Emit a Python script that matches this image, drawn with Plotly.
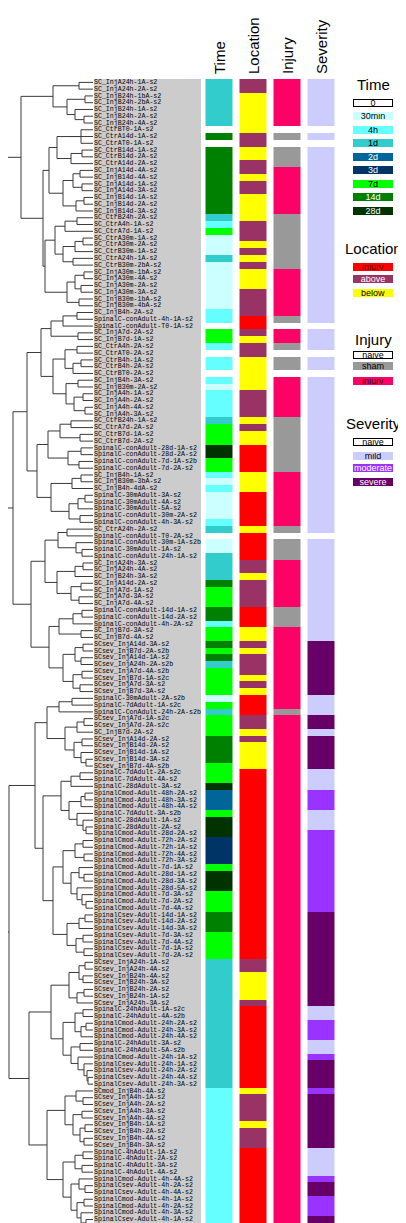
import plotly.graph_objects as go

W, H = 406, 1223

LABELS = [
"SC_InjA24h-1A-s2","SC_InjA24h-2A-s2","SC_InjB24h-1bA-s2","SC_InjB24h-2bA-s2","SC_InjB24h-1A-s2",
"SC_InjB24h-2A-s2","SC_InjB24h-4A-s2","SC_CtrBT0-1A-s2","SC_CtrA14d-1A-s2","SC_CtrAT0-1A-s2",
"SC_CtrB14d-1A-s2","SC_CtrB14d-2A-s2","SC_CtrA14d-2A-s2","SC_InjA14d-4A-s2","SC_InjB14d-4A-s2",
"SC_InjA14d-1A-s2","SC_InjA14d-3A-s2","SC_InjB14d-1A-s2","SC_InjB14d-2A-s2","SC_InjB14d-3A-s2",
"SC_CtrB24h-2A-s2","SC_CtrA4h-1A-s2","SC_CtrA7d-1A-s2","SC_CtrA30m-1A-s2","SC_CtrA30m-2A-s2",
"SC_CtrB30m-1A-s2","SC_CtrA24h-1A-s2","SC_CtrB30m-2bA-s2","SC_InjA30m-1bA-s2","SC_InjA30m-4A-s2",
"SC_InjA30m-2A-s2","SC_InjA30m-3A-s2","SC_InjB30m-1bA-s2","SC_InjB30m-4bA-s2","SC_InjB4h-2A-s2",
"SpinalC-conAdult-4h-1A-s2","SpinalC-conAdult-T0-1A-s2","SC_InjA7d-2A-s2","SC_InjB7d-1A-s2","SC_CtrA4h-2A-s2",
"SC_CtrAT0-2A-s2","SC_CtrB4h-1A-s2","SC_CtrB4h-2A-s2","SC_CtrBT0-2A-s2","SC_InjB4h-3A-s2",
"SC_InjB30m-2A-s2","SC_InjA4h-1A-s2","SC_InjA4h-2A-s2","SC_InjA4h-4A-s2","SC_InjA4h-3A-s2",
"SC_CtrB24h-1A-s2","SC_CtrA7d-2A-s2","SC_CtrB7d-1A-s2","SC_CtrB7d-2A-s2","SpinalC-conAdult-28d-1A-s2",
"SpinalC-conAdult-28d-2A-s2","SpinalC-conAdult-7d-1A-s2b","SpinalC-conAdult-7d-2A-s2","SC_InjB4h-1A-s2","SC_InjB30m-3bA-s2",
"SC_InjB4h-4dA-s2","SpinalC-30mAdult-3A-s2","SpinalC-30mAdult-4A-s2","SpinalC-30mAdult-5A-s2","SpinalC-conAdult-30m-2A-s2",
"SpinalC-conAdult-4h-3A-s2","SC_CtrA24h-2A-s2","SpinalC-conAdult-T0-2A-s2","SpinalC-conAdult-30m-1A-s2b","SpinalC-30mAdult-1A-s2",
"SpinalC-conAdult-24h-1A-s2","SC_InjA24h-3A-s2","SC_InjA24h-4A-s2","SC_InjB24h-3A-s2","SC_InjA14d-2A-s2",
"SC_InjA7d-1A-s2","SC_InjA7d-3A-s2","SC_InjA7d-4A-s2","SpinalC-conAdult-14d-1A-s2","SpinalC-conAdult-14d-2A-s2",
"SpinalC-conAdult-4h-2A-s2","SC_InjB7d-3A-s2","SC_InjB7d-4A-s2","SCsev_InjA14d-3A-s2","SCsev_InjB7d-2A-s2b",
"SCsev_InjA14d-1A-s2","SCsev_InjA24h-2A-s2b","SCsev_InjA7d-4A-s2b","SCsev_InjB7d-1A-s2c","SCsev_InjA7d-3A-s2",
"SCsev_InjB7d-3A-s2","SpinalC-30mAdult-2A-s2b","SpinalC-7dAdult-1A-s2c","SpinalC-ConAdult-24h-2A-s2b","SCsev_InjA7d-1A-s2c",
"SCsev_InjA7d-2A-s2c","SC_InjB7d-2A-s2","SCsev_InjA14d-2A-s2","SCsev_InjB14d-2A-s2","SCsev_InjB14d-1A-s2",
"SCsev_InjB14d-3A-s2","SCsev_InjB7d-4A-s2b","SpinalC-7dAdult-2A-s2c","SpinalC-7dAdult-4A-s2","SpinalC-28dAdult-3A-s2",
"SpinalCmod-Adult-48h-2A-s2","SpinalCmod-Adult-48h-3A-s2","SpinalCmod-Adult-48h-4A-s2","SpinalC-7dAdult-3A-s2b","SpinalC-28dAdult-1A-s2",
"SpinalC-28dAdult-2A-s2","SpinalCmod-Adult-28d-2A-s2","SpinalCmod-Adult-72h-2A-s2","SpinalCmod-Adult-72h-1A-s2","SpinalCmod-Adult-72h-4A-s2",
"SpinalCmod-Adult-72h-3A-s2","SpinalCmod-Adult-7d-1A-s2","SpinalCmod-Adult-28d-1A-s2","SpinalCmod-Adult-28d-3A-s2","SpinalCmod-Adult-28d-5A-s2",
"SpinalCmod-Adult-7d-3A-s2","SpinalCmod-Adult-7d-2A-s2","SpinalCmod-Adult-7d-4A-s2","SpinalCsev-Adult-14d-1A-s2","SpinalCsev-Adult-14d-2A-s2",
"SpinalCsev-Adult-14d-3A-s2","SpinalCsev-Adult-7d-3A-s2","SpinalCsev-Adult-7d-4A-s2","SpinalCsev-Adult-7d-1A-s2","SpinalCsev-Adult-7d-2A-s2",
"SCsev_InjA24h-1A-s2","SCsev_InjA24h-4A-s2","SCsev_InjB24h-4A-s2","SCsev_InjB24h-3A-s2","SCsev_InjB24h-2A-s2",
"SCsev_InjB24h-1A-s2","SCsev_InjA24h-3A-s2","SpinalC-24hAdult-1A-s2c","SpinalC-24hAdult-4A-s2b","SpinalCmod-Adult-24h-2A-s2",
"SpinalCmod-Adult-24h-3A-s2","SpinalCmod-Adult-24h-4A-s2","SpinalC-24hAdult-3A-s2","SpinalC-24hAdult-5A-s2b","SpinalCmod-Adult-24h-1A-s2",
"SpinalCsev-Adult-24h-1A-s2","SpinalCsev-Adult-24h-2A-s2","SpinalCsev-Adult-24h-4A-s2","SpinalCsev-Adult-24h-3A-s2","SCmod_InjB4h-4A-s2",
"SCsev_InjA4h-1A-s2","SCsev_InjA4h-2A-s2","SCsev_InjA4h-3A-s2","SCsev_InjA4h-4A-s2","SCsev_InjB4h-1A-s2",
"SCsev_InjB4h-2A-s2","SCsev_InjB4h-4A-s2","SCsev_InjB4h-3A-s2","SpinalC-4hAdult-1A-s2","SpinalC-4hAdult-2A-s2",
"SpinalC-4hAdult-3A-s2","SpinalC-4hAdult-4A-s2","SpinalCmod-Adult-4h-4A-s2","SpinalCsev-Adult-4h-2A-s2","SpinalCsev-Adult-4h-4A-s2",
"SpinalCmod-Adult-4h-1A-s2","SpinalCmod-Adult-4h-2A-s2","SpinalCmod-Adult-4h-3A-s2","SpinalCsev-Adult-4h-1A-s2","SpinalCsev-Adult-4h-3A-s2",
]

# per-row category codes (one character per sample, in display order)
TIME = ("ddddddd0f0" "ffffffffff" "dh7mmmdmmm" "mmmmhh077h" "0hh0hmhhhh" "d777tt77hm"
        "hmmmmhd0mm" "ddddf777ff" "h77f7fd777" "7m7d777fff" "f777t2227t" "tt33337ttt"
        "777fff7777" "dddddddddd" "dddddddddh" "hhhhhhhhhh" "hhhhhhhhhh")
LOCATION = ("AABBBBBBAA" "BBAABAABBB" "BAAABABABB" "BAAAAIIABA" "ABBBBBAAAA" "BABBIIIIBB"
            "BIIIIIBIII" "IAABAAAAII" "IBBABAAABA" "BIIIAABABB" "BBIIIIIIII" "IIIIIIIIII"
            "IIIIIIIIII" "AABBBBAIII" "IIIIIIIIIB" "AAAABAAAII" "IIIIIIIIII")
INJURY = ("iiiiiiinsn" "sssiiiiiii" "ssssssssii" "iiiiisniis" "nssniiiiii" "ssssssssii"
          "iiiiiisnss" "siiiiiiiss" "siiiiiiiii" "iiisiiiiii" "iiiiiiiiii" "iiiiiiiiii"
          "iiiiiiiiii" "iiiiiiiiii" "iiiiiiiiii" "iiiiiiiiii" "iiiiiiiiii")
SEVERITY = ("lllllllnln" "llllllllll" "llllllllll" "llllllnlll" "nllnllllll" "llllllllll"
            "lllllllnll" "llllllllll" "lllsssssss" "slllsslsss" "sslllmmmll" "lmmmmmmmmm"
            "mmmsssssss" "sssssssllm" "mmllmssssm" "ssssssssll" "llmssmmmss")

TIME_KEYS = ["0", "m", "h", "d", "2", "3", "7", "f", "t"]
TIME_NAMES = ["0", "30min", "4h", "1d", "2d", "3d", "7d", "14d", "28d"]
TIME_COLORS = ["#FFFFFF", "#CCFFFF", "#66FFFF", "#33CCCC", "#006699", "#003366", "#00FF00", "#008000", "#003300"]
TIME_TEXT = ["black", "black", "black", "black", "white", "white", "black", "white", "white"]

LOC_KEYS = ["I", "A", "B"]
LOC_NAMES = ["injury", "above", "below"]
LOC_COLORS = ["#FF0000", "#993366", "#FFFF00"]
LOC_TEXT = ["#660000", "white", "black"]

INJ_KEYS = ["n", "s", "i"]
INJ_NAMES = ["naive", "sham", "injury"]
INJ_COLORS = ["#FFFFFF", "#999999", "#FF0066"]
INJ_TEXT = ["black", "black", "#330011"]

SEV_KEYS = ["n", "l", "m", "s"]
SEV_NAMES = ["naive", "mild", "moderate", "severe"]
SEV_COLORS = ["#FFFFFF", "#CCCCFF", "#9933FF", "#660066"]
SEV_TEXT = ["black", "black", "white", "white"]

COLUMNS = ["Time", "Location", "Injury", "Severity"]

# dendrogram: [merge height, left, right]; leaves are row numbers (1-based, display order)
G1 = [40, [14, 1, 2], [26, [8, 3, 4], [18, 5, [9, 6, 7]]]]
G2 = [36, [24, [12, 8, 10], 9], [22, [11, 11, 12], 13]]
G3 = [30, [20, [13, 14, 15], [11, 16, 17]], [17, [9, 18, 19], 20]]
G4 = [38, [28, [16, 21, 22], 23], [30, [18, [10, 24, 25], 26], [20, 27, 28]]]
G5 = [26, [18, [9, 29, 30], [12, 31, 32]], [14, 33, 34]]
G6 = [42, [30, [16, 35, 36], 37], [15, 38, 39]]
G7 = [28, [16, 40, 41], [20, [12, 42, 43], 44]]
G8 = [27, [15, 45, 46], [19, [10, 47, 48], [8, 49, 50]]]
G9 = [33, [22, 51, 52], [13, 53, 54]]
G10 = [25, [12, 55, 56], [14, 57, 58]]
G11 = [21, [12, 59, 60], 61]
G12 = [24, [15, [8, 62, 63], 64], [13, 65, 66]]
G13 = [35, [26, 67, 68], [17, 69, [11, 70, 71]]]
G14 = [18, [10, 72, 73], 74]
G15 = [22, [12, 75, 76], [14, 77, 78]]
G16 = [20, [11, 79, 80], 81]
G17 = [12, 82, 83]
G18 = [30, [18, [10, 84, 85], [12, 86, 87]], [20, [11, 88, 89], [13, 90, 91]]]
G19 = [34, [21, 92, 93], 94]
G20 = [28, [16, [9, 95, 96], 97], [19, [11, 98, 99], [12, 100, [7, 101, 102]]]]
G21 = [32, [22, [13, 103, 104], 105], [24, [12, [8, 106, 107], 108], [16, 109, [10, 110, [7, 111, 112]]]]]
G22 = [30, [18, [10, 113, 114], [9, 115, 116]], [22, [14, 117, [9, 118, 119]], [16, 120, [11, 121, [7, 122, 123]]]]]
G23 = [26, [14, [8, 124, 125], 126], [17, [10, 127, 128], [9, 129, 130]]]
G24 = [24, [14, [8, 131, 132], [10, 133, 134]], [16, [9, 135, 136], 137]]
G25 = [30, [18, [10, 138, 139], [12, [7, 140, 141], 142]], [22, [13, 143, 144], [15, 145, [9, 146, [6, 147, [5, 148, 149]]]]]]
G26 = [28, [17, 150, [10, 151, 152]], [20, [11, 153, 154], [13, [8, 155, 156], [9, 157, 158]]]]
G27 = [30, [18, [10, 159, 160], [11, 161, 162]], [22, [14, 163, [8, 164, 165]], [16, [9, 166, 167], [12, 168, [7, 169, 170]]]]]

T1 = [72, G1, [50, [44, G2, G3], [48, G4, G5]]]
T2 = [66, [52, G6, [40, G7, G8]], [56, [45, G9, G10], [42, G11, G12]]]
T3 = [62, [48, G13, [36, G14, G15]], [44, [34, G16, G17], G18]]
T4 = [58, [46, G19, G20], [50, G21, [40, G22, G23]]]
T5 = [64, [42, G24, G25], [46, G26, G27]]
TREE = [96, [88, T1, [80, T2, T3]], [84, T4, T5]]

N = len(LABELS)
assert N == 170 and len(TIME) == N and len(LOCATION) == N and len(INJURY) == N and len(SEVERITY) == N

# ---------- palette / matrix ----------
palette = []
def pal_index(c):
    if c not in palette:
        palette.append(c)
    return palette.index(c)

maps = [
    (TIME, TIME_KEYS, TIME_COLORS),
    (LOCATION, LOC_KEYS, LOC_COLORS),
    (INJURY, INJ_KEYS, INJ_COLORS),
    (SEVERITY, SEV_KEYS, SEV_COLORS),
]
z = []
for r in range(N):
    row = []
    for codes, keys, cols in maps:
        row.append(pal_index(cols[keys.index(codes[r])]))
    z.append(row)
P = len(palette)
cs = []
for i, c in enumerate(palette):
    cs.append([i / P, c])
    cs.append([(i + 1) / P, c])

# ---------- geometry (pixels) ----------
ROW_TOP, ROW_BOT = 71.0, 1221.7
def py(px):
    return 1 - px / H

fig = go.Figure()

fig.add_trace(go.Heatmap(
    z=z, x=list(range(4)), y=list(range(N)), colorscale=cs, zmin=-0.5, zmax=P - 0.5,
    showscale=False, xgap=7, hoverinfo="skip", xaxis="x2", yaxis="y"))

fig.add_trace(go.Scatter(
    x=[0] * N, y=list(range(N)), text=LABELS, mode="text", textposition="middle right",
    textfont=dict(family="Liberation Mono", size=6.6, color="#000000"),
    xaxis="x3", yaxis="y", hoverinfo="skip", cliponaxis=False))

# ---------- dendrogram ----------
dx, dy = [], []
def draw(node):
    if isinstance(node, int):
        return float(node - 1), 0.0
    h, a, b = node
    pts = [draw(a), draw(b)]
    ys = [p[0] for p in pts]
    for y, ch in pts:
        dx.extend([ch, h, None]); dy.extend([y, y, None])
    dx.extend([h, h, None]); dy.extend([min(ys), max(ys), None])
    return (min(ys) + max(ys)) / 2, h
draw(TREE)
fig.add_trace(go.Scatter(x=dx, y=dy, mode="lines", line=dict(color="#3a3a3a", width=1),
                         xaxis="x4", yaxis="y", hoverinfo="skip"))

# ---------- layout ----------
shapes = [dict(type="rect", xref="paper", yref="paper", x0=86 / W, x1=193 / W,
               y0=py(ROW_BOT), y1=py(ROW_TOP), fillcolor="#CCCCCC", line=dict(width=0), layer="below")]

ann = []
col_centers = [211.5, 245.5, 279.5, 313.5]
for name, cx in zip(COLUMNS, col_centers):
    ann.append(dict(text=name, x=cx / W, y=py(68), xref="paper", yref="paper", textangle=-90,
                    xanchor="center", yanchor="bottom", showarrow=False,
                    font=dict(family="Liberation Sans", size=15, color="black")))

LEG_X = 365
def legend_block(title, title_y, names, colors, tcols, box_ys):
    ann.append(dict(text=title, x=LEG_X / W, y=py(title_y), xref="paper", yref="paper",
                    showarrow=False, xanchor="center", yanchor="middle",
                    font=dict(family="Liberation Sans", size=15, color="black")))
    for nm, c, tc, by in zip(names, colors, tcols, box_ys):
        border = "black" if c == "#FFFFFF" else c
        ann.append(dict(text=nm, x=LEG_X / W, y=py(by), xref="paper", yref="paper",
                        showarrow=False, xanchor="center", yanchor="middle", width=38, height=6,
                        bgcolor=c, bordercolor=border, borderwidth=1, borderpad=0,
                        font=dict(family="Liberation Sans", size=9, color=tc)))

legend_block("Time", 77, TIME_NAMES, TIME_COLORS, TIME_TEXT,
             [94.5, 108, 122, 135.5, 149, 162.5, 175.5, 189, 202.5])
legend_block("Location", 240, LOC_NAMES, LOC_COLORS, LOC_TEXT, [258.5, 271.5, 285])
legend_block("Injury", 331, INJ_NAMES, INJ_COLORS, INJ_TEXT, [347, 358, 372.5])
legend_block("Severity", 416, SEV_NAMES, SEV_COLORS, SEV_TEXT, [434.5, 447.5, 460.5, 474])

ydom = [py(ROW_BOT), py(ROW_TOP)]
hidden = dict(visible=False, showgrid=False, zeroline=False)
fig.update_layout(
    width=W, height=H, margin=dict(l=0, r=0, t=0, b=0),
    paper_bgcolor="white", plot_bgcolor="rgba(0,0,0,0)", showlegend=False,
    yaxis=dict(range=[N - 0.5, -0.5], domain=ydom, **hidden),
    xaxis2=dict(range=[-0.5, 3.5], domain=[194.5 / W, 330.5 / W], anchor="y", **hidden),
    xaxis3=dict(range=[0, 1], domain=[86 / W, 193 / W], anchor="y", **hidden),
    xaxis4=dict(range=[85, 0], domain=[0, 85 / W], anchor="y", **hidden),
    xaxis=dict(visible=False),
    shapes=shapes, annotations=ann,
)
fig.write_html("out.html")
